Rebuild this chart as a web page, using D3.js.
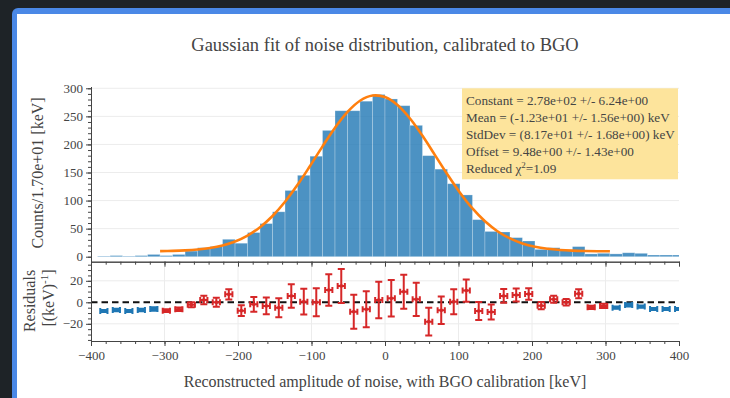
<!DOCTYPE html>
<html><head><meta charset="utf-8">
<script src="https://cdn.jsdelivr.net/npm/d3@7/dist/d3.min.js"></script>
<style>
html,body{margin:0;padding:0;background:#1e2327;width:730px;height:398px;overflow:hidden;}
#frame{position:absolute;left:12px;top:8px;width:730px;height:400px;background:#fff;border-top:6px solid #4a88e6;border-left:5px solid #4a88e6;border-top-left-radius:6px;}
svg{position:absolute;left:0;top:0;}
</style></head><body>
<div id="frame"></div>
<svg id="chart" width="730" height="398"></svg>
<script>
// ---------------- data ----------------
const binCenters = [-382.5,-365.5,-348.5,-331.5,-314.5,-297.5,-280.5,-263.5,-246.5,-229.5,-212.5,-195.5,-178.5,-161.5,-144.5,-127.5,-110.5,-93.5,-76.5,-59.5,-42.5,-25.5,-8.5,8.5,25.5,42.5,59.5,76.5,93.5,110.5,127.5,144.5,161.5,178.5,195.5,212.5,229.5,246.5,263.5,280.5,297.5,314.5,331.5,348.5,365.5,382.5,399.5];
const binWidth = 17;
const counts = [1,2,1,2,4,2,4,10,16,18,31,24,43,59,80,118,145,179,225,260,260,277,289,281,269,234,180,156,130,110,66,45,44,34,28,13,16,11,18,5,6,5,7,6,3,3,3];
const residuals = [-8.1,-7.2,-8.1,-7.2,-6.2,-7.8,-6.5,-2.2,2.1,0,7.4,-7.8,-1.9,-3.4,-5.0,5.9,0.6,0,11.4,15.2,-8.7,-6.5,2.1,3.7,9.9,2.8,-18,-7.4,0.6,10.9,-8.1,-9.0,5.9,6.8,7.7,-3.1,2.8,0,8.0,-4.7,-3.4,-5.0,-2.5,-4.0,-6.2,-6.2,-6.2];
const residualErr = [1.0,1.2,1.0,1.2,1.6,1.3,1.6,2.3,4.0,4.2,4.7,5.0,6.8,7.8,8.8,10.9,12.0,13.0,14.6,15.8,15.8,16.7,17.0,17.0,15.8,15.5,12.9,12.9,11.6,10.3,8.4,7.0,6.4,6.0,5.4,3.3,3.3,3.0,4.2,1.5,2.0,1.0,1.5,1.0,1.0,1.0,1.0];
const xErr = 4.9;
const fitRange = [-306, 306];
const fitX = [-306,-289,-272,-255,-238,-221,-204,-187,-170,-153,-136,-119,-102,-85,-68,-51,-34,-17,0,17,34,51,68,85,102,119,136,153,170,187,204,221,238,255,272,289,306];
const fitY = [9.91,10.38,11.26,12.85,15.60,20.12,27.21,37.74,52.64,72.58,97.85,127.97,161.63,196.59,229.83,257.98,277.84,287.02,284.35,270.17,246.24,215.39,180.99,146.27,113.96,85.90,63.01,45.38,32.54,23.67,17.84,14.19,12.03,10.80,10.13,9.79,9.62];
const fitLines = ["Constant = 2.78e+02 +/- 6.24e+00","Mean = (-1.23e+01 +/- 1.56e+00) keV","StdDev = (8.17e+01 +/- 1.68e+00) keV","Offset = 9.48e+00 +/- 1.43e+00"];
const chiLine = ["Reduced \u03c7", "2", "=1.09"];
const xTicks = [-400,-300,-200,-100,0,100,200,300,400];
const yTicks = [0,50,100,150,200,250,300];
const resTicks = [-20,0,20];
const titleText = "Gaussian fit of noise distribution, calibrated to BGO";
const xLabel = "Reconstructed amplitude of noise, with BGO calibration [keV]";
const yLabel = "Counts/1.70e+01 [keV]";

// ---------------- layout ----------------
const FONT = "'Liberation Serif','Times New Roman',serif";
const TXT = "#444";
const L = 91, R = 679;
const hTop = 86.5, hBot = 261.7, rTop = 263.6, rBot = 341;

const svg = d3.select("#chart");
const x = d3.scaleLinear().domain([-400, 400]).range([L, R]);
const yH = d3.scaleLinear().domain([-8.9, 303.2]).range([hBot, hTop]);
const yR = d3.scaleLinear().domain([-36, 36]).range([rBot, rTop]);
const fmt = d => d < 0 ? "\u2212" + Math.abs(d) : String(d);

const defs = svg.append("defs");
defs.append("clipPath").attr("id", "clipH").append("rect")
  .attr("x", L).attr("y", hTop).attr("width", R - L).attr("height", hBot - hTop);
defs.append("clipPath").attr("id", "clipR").append("rect")
  .attr("x", L).attr("y", rTop).attr("width", R - L).attr("height", rBot - rTop);

// grids
const grid = svg.append("g").attr("stroke", "#ececec").attr("stroke-width", 1);
grid.selectAll(".gh").data(yTicks.filter(d => d > 0)).join("line")
  .attr("x1", L).attr("x2", R).attr("y1", d => yH(d)).attr("y2", d => yH(d));
grid.selectAll(".gr").data(resTicks.filter(d => d !== 0)).join("line")
  .attr("x1", L).attr("x2", R).attr("y1", d => yR(d)).attr("y2", d => yR(d));
grid.selectAll(".gv").data(xTicks.slice(1, -1)).join("line")
  .attr("x1", d => x(d)).attr("x2", d => x(d)).attr("y1", rTop).attr("y2", rBot);

// histogram bars
svg.append("g").attr("clip-path", "url(#clipH)")
  .selectAll("rect").data(binCenters).join("rect")
  .attr("x", d => x(d - binWidth / 2))
  .attr("width", d => x(d + binWidth / 2) - x(d - binWidth / 2))
  .attr("y", (d, i) => yH(counts[i]))
  .attr("height", (d, i) => yH(0) - yH(counts[i]))
  .attr("fill", "#1f77b4").attr("fill-opacity", 0.8)
  .attr("stroke", "#ffffff").attr("stroke-opacity", 0.3).attr("stroke-width", 0.8);

// fit curve
svg.append("path")
  .datum(fitX.map((v, i) => [v, fitY[i]]))
  .attr("d", d3.line().x(d => x(d[0])).y(d => yH(d[1])).curve(d3.curveCatmullRom))
  .attr("fill", "none").attr("stroke", "#ff7f0e").attr("stroke-width", 2.6);

// fit box
const box = svg.append("g");
box.append("rect").attr("x", 462).attr("y", 88.3).attr("width", 216).attr("height", 91)
  .attr("fill", "#fde49c");
const bt = box.append("g").attr("font-family", FONT).attr("font-size", 13.2).attr("fill", TXT);
fitLines.forEach((t, i) => {
  bt.append("text").attr("x", 466).attr("y", 105.3 + i * 16.8).text(t);
});
const chi = bt.append("text").attr("x", 466).attr("y", 105.3 + 4 * 16.8);
chi.append("tspan").text(chiLine[0]);
chi.append("tspan").attr("font-size", 9).attr("dy", -5).text(chiLine[1]);
chi.append("tspan").attr("dy", 5).text(chiLine[2]);

// residuals: zero line
svg.append("line").attr("x1", L).attr("x2", R).attr("y1", yR(0)).attr("y2", yR(0))
  .attr("stroke", "#111").attr("stroke-width", 2).attr("stroke-dasharray", "6.5,4");

// residual error bars
const inFit = c => c >= fitRange[0] && c <= fitRange[1];
const rg = svg.append("g").attr("clip-path", "url(#clipR)").attr("stroke-width", 2).attr("fill", "none");
binCenters.forEach((c, i) => {
  const col = inFit(c) ? "#d62728" : "#1f77b4";
  const g = rg.append("g").attr("stroke", col);
  const cx = x(c), cy = yR(residuals[i]);
  const y1 = yR(residuals[i] - residualErr[i]), y2 = yR(residuals[i] + residualErr[i]);
  const xa = x(c - xErr), xb = x(c + xErr);
  g.append("line").attr("x1", cx).attr("x2", cx).attr("y1", y1).attr("y2", y2);
  g.append("line").attr("x1", cx - 3.5).attr("x2", cx + 3.5).attr("y1", y1).attr("y2", y1);
  g.append("line").attr("x1", cx - 3.5).attr("x2", cx + 3.5).attr("y1", y2).attr("y2", y2);
  g.append("line").attr("x1", xa).attr("x2", xb).attr("y1", cy).attr("y2", cy);
  g.append("line").attr("x1", xa).attr("x2", xa).attr("y1", cy - 3).attr("y2", cy + 3);
  g.append("line").attr("x1", xb).attr("x2", xb).attr("y1", cy - 3).attr("y2", cy + 3);
  g.append("rect").attr("x", cx - 1.5).attr("y", cy - 1.5).attr("width", 3).attr("height", 3).attr("fill", col).attr("stroke", "none");
});

// axes
function styleAxis(g) {
  g.selectAll(".domain").attr("stroke", "#444").attr("stroke-width", 1);
  g.selectAll(".tick line").attr("stroke", "#444").attr("stroke-width", 1);
  g.selectAll("text").attr("font-family", FONT).attr("font-size", 13).attr("fill", TXT);
}
// histogram y axis
svg.append("g").attr("transform", `translate(${L},0)`)
  .call(d3.axisLeft(yH).tickValues(d3.range(0, 301, 10)).tickSize(3).tickSizeOuter(0).tickFormat(""))
  .call(styleAxis);
svg.append("g").attr("transform", `translate(${L},0)`)
  .call(d3.axisLeft(yH).tickValues(yTicks).tickSize(5).tickSizeOuter(0).tickPadding(3).tickFormat(fmt))
  .call(styleAxis);
// histogram x axis (no labels)
svg.append("g").attr("transform", `translate(0,${hBot})`)
  .call(d3.axisBottom(x).tickValues(d3.range(-400, 401, 20)).tickSize(3).tickSizeOuter(0).tickFormat(""))
  .call(styleAxis);
svg.append("g").attr("transform", `translate(0,${hBot})`)
  .call(d3.axisBottom(x).tickValues(xTicks).tickSize(5).tickSizeOuter(0).tickFormat(""))
  .call(styleAxis);
// residual y axis
svg.append("g").attr("transform", `translate(${L},0)`)
  .call(d3.axisLeft(yR).tickValues(d3.range(-35, 36, 5)).tickSize(3).tickSizeOuter(0).tickFormat(""))
  .call(styleAxis);
svg.append("g").attr("transform", `translate(${L},0)`)
  .call(d3.axisLeft(yR).tickValues(resTicks).tickSize(5).tickSizeOuter(0).tickPadding(3).tickFormat(fmt))
  .call(styleAxis);
// residual x axis
svg.append("g").attr("transform", `translate(0,${rBot})`)
  .call(d3.axisBottom(x).tickValues(d3.range(-400, 401, 20)).tickSize(3).tickSizeOuter(0).tickFormat(""))
  .call(styleAxis);
svg.append("g").attr("transform", `translate(0,${rBot})`)
  .call(d3.axisBottom(x).tickValues(xTicks).tickSize(5).tickSizeOuter(0).tickPadding(4.5).tickFormat(fmt))
  .call(styleAxis);

// titles
const tg = svg.append("g").attr("font-family", FONT).attr("fill", TXT);
tg.append("text").attr("x", 385).attr("y", 51).attr("text-anchor", "middle").attr("font-size", 18.5).text(titleText);
tg.append("text").attr("x", 385).attr("y", 387).attr("text-anchor", "middle").attr("font-size", 16).text(xLabel);
tg.append("text").attr("transform", "translate(42.5,173) rotate(-90)").attr("text-anchor", "middle").attr("font-size", 16).text(yLabel);
tg.append("text").attr("transform", "translate(35,301) rotate(-90)").attr("text-anchor", "middle").attr("font-size", 16).text("Residuals");
const rl = tg.append("text").attr("transform", "translate(54,298) rotate(-90)").attr("text-anchor", "middle").attr("font-size", 16);
rl.append("tspan").text("[(keV)");
rl.append("tspan").attr("font-size", 11).attr("dy", -6).text("-1");
rl.append("tspan").attr("dy", 6).text("]");
</script>
</body></html>
